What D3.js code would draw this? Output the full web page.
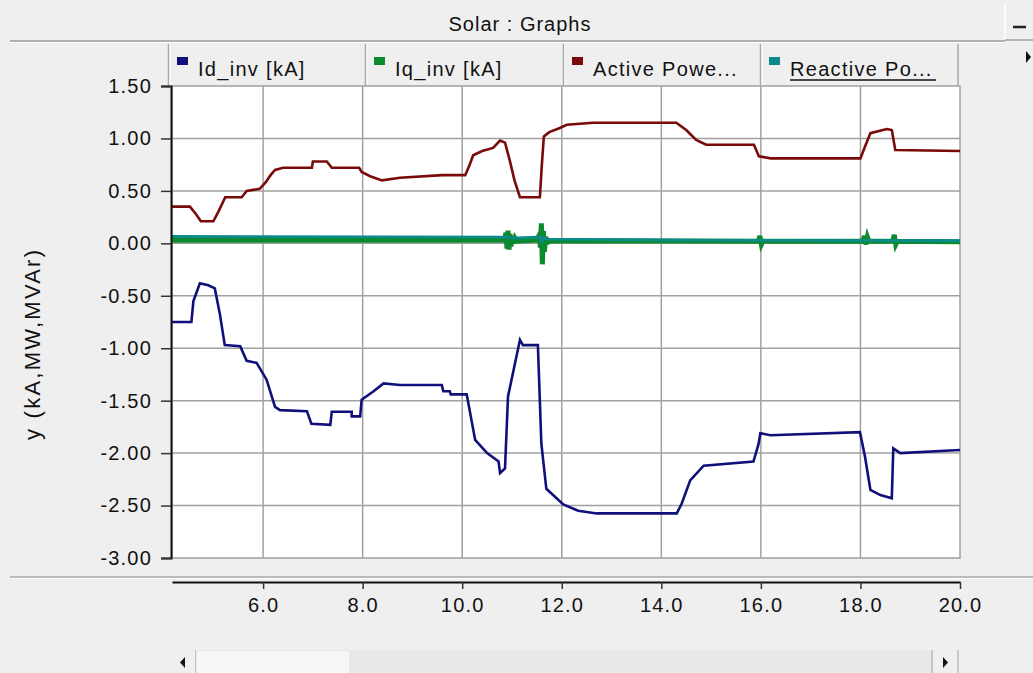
<!DOCTYPE html>
<html>
<head>
<meta charset="utf-8">
<title>Solar : Graphs</title>
<script src="https://cdn.jsdelivr.net/npm/d3@7"></script>
<style>
  body { margin: 0; background: #efefef; }
  svg { display: block; font-family: "Liberation Sans", Arial, sans-serif; }
  .tick text { font-size: 20px; letter-spacing: 1.2px; fill: #111; }
</style>
</head>
<body>
<script>
// series names as in the legend tabs
var seriesNames = ["Id_inv [kA]", "Iq_inv [kA]", "Active Powe...", "Reactive Po..."];
var seriesColors = ["#10107a", "#0c8a2e", "#7a0a0a", "#0a8a8a"];

var xTicks = [6, 8, 10, 12, 14, 16, 18, 20];
var yTicks = [1.5, 1.0, 0.5, 0.0, -0.5, -1.0, -1.5, -2.0, -2.5, -3.0];

// Id_inv [kA]  (time, value)
var idT = [4.17, 4.56, 4.60, 4.73, 4.90, 5.03, 5.13, 5.23, 5.54, 5.67, 5.87, 6.07, 6.24, 6.34, 6.88, 6.97,
  7.35, 7.38, 7.78, 7.78, 7.95, 7.98, 8.22, 8.42, 8.75, 9.59, 9.62, 9.75, 9.77, 10.09, 10.26, 10.50,
  10.73, 10.76, 10.86, 10.92, 11.16, 11.22, 11.52, 11.59, 11.69, 12.03, 12.33, 12.70, 14.31, 14.41,
  14.58, 14.85, 15.85, 15.95, 15.99, 16.19, 17.99, 18.09, 18.20, 18.40, 18.63, 18.66, 18.80, 20.00];
var idV = [-0.75, -0.75, -0.55, -0.38, -0.40, -0.43, -0.67, -0.97, -0.98, -1.12, -1.14, -1.30, -1.56, -1.59, -1.60, -1.72,
  -1.73, -1.605, -1.605, -1.65, -1.65, -1.49, -1.41, -1.335, -1.35, -1.35, -1.41, -1.41, -1.44, -1.44, -1.875, -2.00,
  -2.08, -2.19, -2.145, -1.46, -0.92, -0.97, -0.97, -1.91, -2.34, -2.49, -2.55, -2.575, -2.575, -2.48,
  -2.26, -2.12, -2.08, -1.92, -1.81, -1.83, -1.80, -2.03, -2.35, -2.40, -2.43, -1.955, -2.00, -1.97];

// Iq_inv [kA]
var iqT = [4.17, 10.85, 10.88, 10.90, 10.92, 10.94, 10.96, 10.98, 11.00, 11.03, 11.06, 11.10, 11.50, 11.55,
  11.57, 11.59, 11.61, 11.63, 11.65, 11.68, 11.72, 11.80, 15.95, 15.98, 16.01, 16.04, 18.05, 18.08, 18.11,
  18.14, 18.17, 18.65, 18.68, 18.71, 18.74, 20.00];
var iqV = [0.03, 0.03, 0.10, -0.05, 0.12, -0.06, 0.09, -0.03, 0.07, 0.00, 0.05, 0.02, 0.03, 0.08,
  -0.04, 0.19, -0.20, 0.12, -0.08, 0.06, 0.01, 0.025, 0.02, 0.07, -0.01, 0.02, 0.02, 0.07, -0.01,
  0.06, 0.02, 0.02, 0.08, -0.01, 0.02, 0.015];

// Active Power [MW]
var pT = [4.17, 4.53, 4.65, 4.75, 5.00, 5.10, 5.24, 5.57, 5.67, 5.93, 6.05, 6.15, 6.24, 6.40, 6.98, 7.00,
  7.28, 7.38, 7.93, 7.98, 8.15, 8.39, 8.75, 9.60, 10.06, 10.15, 10.22, 10.40, 10.62, 10.76, 10.86, 10.95,
  11.05, 11.16, 11.56, 11.60, 11.64, 11.75, 11.96, 12.10, 12.63, 14.30, 14.50, 14.70, 14.90, 15.86, 15.96,
  16.20, 18.00, 18.09, 18.20, 18.53, 18.63, 18.70, 20.00];
var pV = [0.35, 0.35, 0.28, 0.21, 0.21, 0.30, 0.44, 0.44, 0.50, 0.52, 0.58, 0.65, 0.70, 0.72, 0.72, 0.78,
  0.78, 0.72, 0.72, 0.68, 0.64, 0.60, 0.625, 0.65, 0.65, 0.75, 0.84, 0.88, 0.91, 0.98, 0.96, 0.80,
  0.60, 0.44, 0.44, 0.75, 1.02, 1.06, 1.10, 1.13, 1.15, 1.15, 1.08, 0.985, 0.94, 0.94, 0.83,
  0.81, 0.81, 0.92, 1.05, 1.09, 1.08, 0.89, 0.88];

// Reactive Power [MVAr]
var qT = [4.17, 10.90, 11.00, 11.58, 11.60, 11.62, 11.70, 14.60, 20.00];
var qV = [0.065, 0.06, 0.05, 0.06, 0.00, 0.05, 0.04, 0.03, 0.025];

var W = 1033, H = 673;
var plotL = 172, plotR = 960, plotT = 86, plotB = 558;

var svg = d3.select("body").append("svg")
    .attr("width", W)
    .attr("height", H);

// window background
svg.append("rect").attr("width", W).attr("height", H).attr("fill", "#efefef");

// title bar
svg.append("text")
    .attr("x", 520).attr("y", 31)
    .attr("text-anchor", "middle")
    .style("font-size", "20px")
    .style("letter-spacing", "1px")
    .attr("fill", "#111")
    .text("Solar : Graphs");

svg.append("line").attr("x1", 10).attr("x2", 1005).attr("y1", 41).attr("y2", 41)
    .attr("stroke", "#9a9a9a").attr("stroke-width", 1.5);
svg.append("line").attr("x1", 10).attr("x2", 1005).attr("y1", 42.5).attr("y2", 42.5)
    .attr("stroke", "#ffffff").attr("stroke-width", 1);

// minimize button
svg.append("line").attr("x1", 1005).attr("x2", 1005).attr("y1", 4).attr("y2", 40)
    .attr("stroke", "#ffffff").attr("stroke-width", 1.5);
svg.append("line").attr("x1", 1005).attr("x2", 1033).attr("y1", 40).attr("y2", 40)
    .attr("stroke", "#a0a0a0").attr("stroke-width", 1.5);
svg.append("line").attr("x1", 1013).attr("x2", 1026).attr("y1", 27).attr("y2", 27)
    .attr("stroke", "#222").attr("stroke-width", 2.5);

// right arrow
svg.append("path").attr("d", "M1026,51 L1031,57 L1026,63 Z").attr("fill", "#111");

// legend tabs
var tabEdges = [168, 365, 563, 760, 958];
var tabs = svg.append("g");
seriesNames.forEach(function(name, i) {
  var x0 = tabEdges[i], x1 = tabEdges[i + 1];
  tabs.append("rect")
      .attr("x", x0).attr("y", 44).attr("width", x1 - x0).attr("height", 42)
      .attr("fill", "#efefef");
  tabs.append("line").attr("x1", x0 + 0.5).attr("x2", x0 + 0.5).attr("y1", 44).attr("y2", 86)
      .attr("stroke", "#a8a8a8").attr("stroke-width", 1.5);
  tabs.append("line").attr("x1", x0 + 2).attr("x2", x0 + 2).attr("y1", 44).attr("y2", 86)
      .attr("stroke", "#ffffff").attr("stroke-width", 1);
  tabs.append("rect")
      .attr("x", x0 + 9).attr("y", 57).attr("width", 11).attr("height", 8)
      .attr("fill", seriesColors[i]);
  tabs.append("text")
      .attr("x", x0 + 30).attr("y", 76)
      .style("font-size", "20px")
      .style("letter-spacing", "1.3px")
      .attr("fill", "#111")
      .text(name);
  if (i === 3) {
    tabs.append("line").attr("x1", x0 + 30).attr("x2", x0 + 176).attr("y1", 80).attr("y2", 80)
        .attr("stroke", "#111").attr("stroke-width", 1.5);
  }
});
svg.append("line").attr("x1", 958).attr("x2", 958).attr("y1", 44).attr("y2", 86)
    .attr("stroke", "#a8a8a8").attr("stroke-width", 1.5);

// scales
var x = d3.scaleLinear().domain([4.17, 20]).range([plotL, plotR]);
var y = d3.scaleLinear().domain([-3, 1.5]).range([plotB, plotT]);

// plot area
svg.append("rect")
    .attr("x", plotL).attr("y", plotT)
    .attr("width", plotR - plotL).attr("height", plotB - plotT)
    .attr("fill", "#ffffff")
    .attr("stroke", "#a0a0a0").attr("stroke-width", 1.5);

// grid
svg.append("g").selectAll("line")
    .data(xTicks.filter(function(d) { return d < 20; }))
    .enter().append("line")
    .attr("x1", function(d) { return x(d); }).attr("x2", function(d) { return x(d); })
    .attr("y1", plotT).attr("y2", plotB)
    .attr("stroke", "#a0a0a0").attr("stroke-width", 1.5);

svg.append("g").selectAll("line")
    .data(yTicks.filter(function(d) { return d < 1.5 && d > -3; }))
    .enter().append("line")
    .attr("x1", plotL).attr("x2", plotR)
    .attr("y1", function(d) { return y(d); }).attr("y2", function(d) { return y(d); })
    .attr("stroke", "#a0a0a0").attr("stroke-width", 1.5);

// curves
function pts(ts, vs) { return ts.map(function(t, i) { return [t, vs[i]]; }); }
var line = d3.line()
    .x(function(d) { return x(d[0]); })
    .y(function(d) { return y(d[1]); });

var series = [
  {data: pts(idT, idV), color: seriesColors[0], w: 2.6},
  {data: pts(iqT, iqV), color: seriesColors[1], w: 5},
  {data: pts(pT, pV), color: seriesColors[2], w: 2.6},
  {data: pts(qT, qV), color: seriesColors[3], w: 2.8}
];

var curves = svg.append("g");
series.forEach(function(s) {
  curves.append("path")
      .datum(s.data)
      .attr("d", line)
      .attr("fill", "none")
      .attr("stroke", s.color)
      .attr("stroke-width", s.w)
      .attr("stroke-linejoin", "miter");
});

// y axis
var yAxis = svg.append("g")
    .attr("transform", "translate(" + (plotL - 1) + ",0)")
    .call(d3.axisLeft(y).tickValues(yTicks).tickSize(10).tickPadding(9)
      .tickFormat(function(d) { return d.toFixed(2); }));
yAxis.select(".domain").attr("stroke", "#111").attr("stroke-width", 2);
yAxis.selectAll(".tick line").attr("stroke", "#333").attr("stroke-width", 1.5);

svg.append("text")
    .attr("transform", "translate(40,345) rotate(-90)")
    .attr("text-anchor", "middle")
    .style("font-size", "22px")
    .attr("textLength", 190)
    .attr("lengthAdjust", "spacing")
    .attr("fill", "#111")
    .text("y (kA,MW,MVAr)");

// lower separator
svg.append("line").attr("x1", 10).attr("x2", W).attr("y1", 577).attr("y2", 577)
    .attr("stroke", "#a8a8a8").attr("stroke-width", 1.5);
svg.append("line").attr("x1", 10).attr("x2", W).attr("y1", 578.5).attr("y2", 578.5)
    .attr("stroke", "#ffffff").attr("stroke-width", 1);

// x axis
var xAxis = svg.append("g")
    .attr("transform", "translate(0,582)")
    .call(d3.axisBottom(x).tickValues(xTicks).tickSizeInner(7).tickSizeOuter(0).tickPadding(9)
      .tickFormat(function(d) { return d.toFixed(1); }));
xAxis.select(".domain").attr("stroke", "#111").attr("stroke-width", 2.2);
xAxis.selectAll(".tick line").attr("stroke", "#333").attr("stroke-width", 1.5);

// scrollbar
var sb = svg.append("g");
sb.append("rect").attr("x", 172).attr("y", 650).attr("width", 786).attr("height", 23).attr("fill", "#e8e8e8");
sb.append("rect").attr("x", 197).attr("y", 651).attr("width", 152).attr("height", 22).attr("fill", "#f6f6f6");
sb.append("line").attr("x1", 195).attr("x2", 195).attr("y1", 650).attr("y2", 673).attr("stroke", "#bbb").attr("stroke-width", 1.5);
sb.append("line").attr("x1", 932).attr("x2", 932).attr("y1", 650).attr("y2", 673).attr("stroke", "#bbb").attr("stroke-width", 1.5);
sb.append("rect").attr("x", 172).attr("y", 650).attr("width", 23).attr("height", 23).attr("fill", "#efefef");
sb.append("rect").attr("x", 933).attr("y", 650).attr("width", 25).attr("height", 23).attr("fill", "#efefef");
sb.append("line").attr("x1", 958).attr("x2", 958).attr("y1", 650).attr("y2", 673).attr("stroke", "#bbb").attr("stroke-width", 1.5);
sb.append("path").attr("d", "M185,657 L180,662.5 L185,668 Z").attr("fill", "#111");
sb.append("path").attr("d", "M943,657 L948,662.5 L943,668 Z").attr("fill", "#111");
</script>
</body>
</html>
